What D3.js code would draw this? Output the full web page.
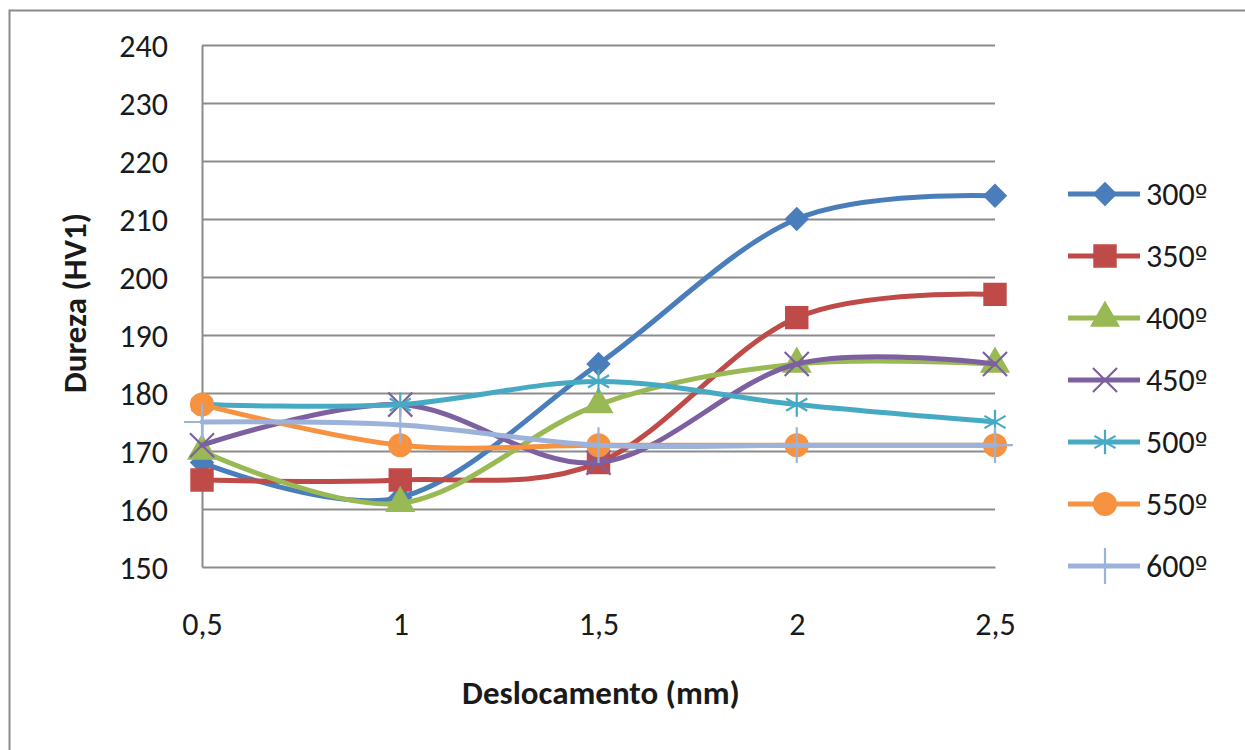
<!DOCTYPE html>
<html>
<head>
<meta charset="utf-8">
<script src="https://cdn.jsdelivr.net/npm/d3@7"></script>
<style>
  html, body { margin: 0; padding: 0; background: #ffffff; }
  svg { display: block; }
  text { font-family: Carlito, Lato, "Open Sans", sans-serif; fill: #1a1a1a; }
</style>
</head>
<body>
<svg id="chart" width="1245" height="750"></svg>
<script>
// Displacement categories (mm) and hardness tick values
const categories = ["0,5", "1", "1,5", "2", "2,5"];
const yTicks = [150, 160, 170, 180, 190, 200, 210, 220, 230, 240];

// Hardness HV1 per tempering temperature
const names = ["300º", "350º", "400º", "450º", "500º", "550º", "600º"];
const s300 = [168, 162, 185, 210, 214];
const s350 = [165, 165, 168, 193, 197];
const s400 = [170, 161, 178, 185, 185];
const s450 = [171, 178, 168, 185, 185];
const s500 = [178, 178, 182, 178, 175];
const s550 = [178, 171, 171, 171, 171];
const s600 = [175, 174.5, 171, 171, 171];

const colors = ["#4a7ebb", "#be4b48", "#98b954", "#7d60a0", "#46aac5", "#f69240", "#9db2da"];
const markers = ["diamond", "square", "triangle", "x", "asterisk", "circle", "plus"];
const seriesValues = [s300, s350, s400, s450, s500, s550, s600];

const series = names.map((n, i) => ({
  name: n, values: seriesValues[i], color: colors[i], marker: markers[i]
}));

const svg = d3.select("#chart");

// Outer chart frame
svg.append("rect")
  .attr("x", 9.5).attr("y", 10.5)
  .attr("width", 1260).attr("height", 760)
  .attr("fill", "none").attr("stroke", "#8a8a8a").attr("stroke-width", 2);

const plot = { left: 202, right: 995, top: 45, bottom: 567 };

const x = d3.scalePoint().domain(categories).range([plot.left, plot.right]);
const y = d3.scaleLinear().domain([150, 240]).range([plot.bottom, plot.top]);

// Horizontal gridlines
svg.append("g")
  .attr("transform", `translate(${plot.left},0)`)
  .call(d3.axisLeft(y).tickValues(yTicks.slice(1)).tickSize(-(plot.right - plot.left)).tickFormat(""))
  .call(g => g.select(".domain").remove())
  .call(g => g.selectAll("line").attr("stroke", "#8c8c8c").attr("stroke-width", 2));

// Y axis
svg.append("g")
  .attr("transform", `translate(${plot.left},0)`)
  .call(d3.axisLeft(y).tickValues(yTicks).tickSize(0).tickPadding(34).tickFormat(d3.format("d")))
  .call(g => g.select(".domain").attr("stroke", "#8c8c8c").attr("stroke-width", 2))
  .call(g => g.selectAll("text").attr("font-size", 32).attr("fill", "#1a1a1a").attr("dy", "0.35em"));

// X axis
svg.append("g")
  .attr("transform", `translate(0,${plot.bottom})`)
  .call(d3.axisBottom(x).tickSize(0))
  .call(g => g.select(".domain").attr("stroke", "#8c8c8c").attr("stroke-width", 2))
  .call(g => g.selectAll("text").attr("font-size", 32).attr("fill", "#1a1a1a")
    .attr("y", 57).attr("dy", "0.35em"));

// Axis titles
svg.append("text")
  .attr("x", 601).attr("y", 693)
  .attr("text-anchor", "middle").attr("dominant-baseline", "central")
  .attr("font-size", 33).attr("font-weight", "bold")
  .text("Deslocamento (mm)");

svg.append("text")
  .attr("transform", "translate(75,303) rotate(-90)")
  .attr("text-anchor", "middle").attr("dominant-baseline", "central")
  .attr("font-size", 33).attr("font-weight", "bold")
  .text("Dureza (HV1)");

// Marker drawing
function drawMarker(g, type, color) {
  const sym = {
    diamond: [d3.symbolSquare, 250, true, 45],
    square: [d3.symbolSquare, 480, true, 0],
    triangle: [d3.symbolTriangle, 330, true, 0],
    circle: [d3.symbolCircle, 400, true, 0],
    x: [d3.symbolX, 380, false, 0],
    asterisk: [d3.symbolAsterisk, 420, false, 0],
    plus: [d3.symbolPlus, 420, false, 0]
  }[type];
  const p = g.append("path")
    .attr("d", d3.symbol().type(sym[0]).size(sym[1])())
    .attr("transform", `rotate(${sym[3]})`);
  if (sym[2]) {
    p.attr("fill", color).attr("stroke", color).attr("stroke-width", 1.5);
  } else {
    p.attr("fill", "none").attr("stroke", color).attr("stroke-width", 2.2);
  }
}

const line = d3.line()
  .x((d, i) => x(categories[i]))
  .y(d => y(d))
  .curve(d3.curveCardinal.tension(0));

const seriesG = svg.append("g");
series.forEach(s => {
  const g = seriesG.append("g");
  g.append("path")
    .attr("d", line(s.values))
    .attr("fill", "none")
    .attr("stroke", s.color)
    .attr("stroke-width", 5)
    .attr("stroke-linejoin", "round")
    .attr("stroke-linecap", "round");
  s.values.forEach((v, i) => {
    const m = g.append("g").attr("transform", `translate(${x(categories[i])},${y(v)})`);
    drawMarker(m, s.marker, s.color);
  });
});

// Legend
const legendY = d3.scalePoint().domain(names).range([194, 566]);
const legend = svg.append("g");
series.forEach(s => {
  const ly = legendY(s.name);
  const g = legend.append("g");
  g.append("line")
    .attr("x1", 1068).attr("x2", 1140)
    .attr("y1", ly).attr("y2", ly)
    .attr("stroke", s.color).attr("stroke-width", 5);
  const m = g.append("g").attr("transform", `translate(1105,${ly})`);
  drawMarker(m, s.marker, s.color);
  const t = g.append("text")
    .attr("x", 1146).attr("y", ly)
    .attr("dominant-baseline", "central")
    .attr("font-size", 32);
  t.append("tspan").text(s.name.slice(0, -1));
  t.append("tspan").attr("font-family", "'DejaVu Sans', sans-serif").attr("font-size", 27)
    .text(s.name.slice(-1));
});
</script>
</body>
</html>
